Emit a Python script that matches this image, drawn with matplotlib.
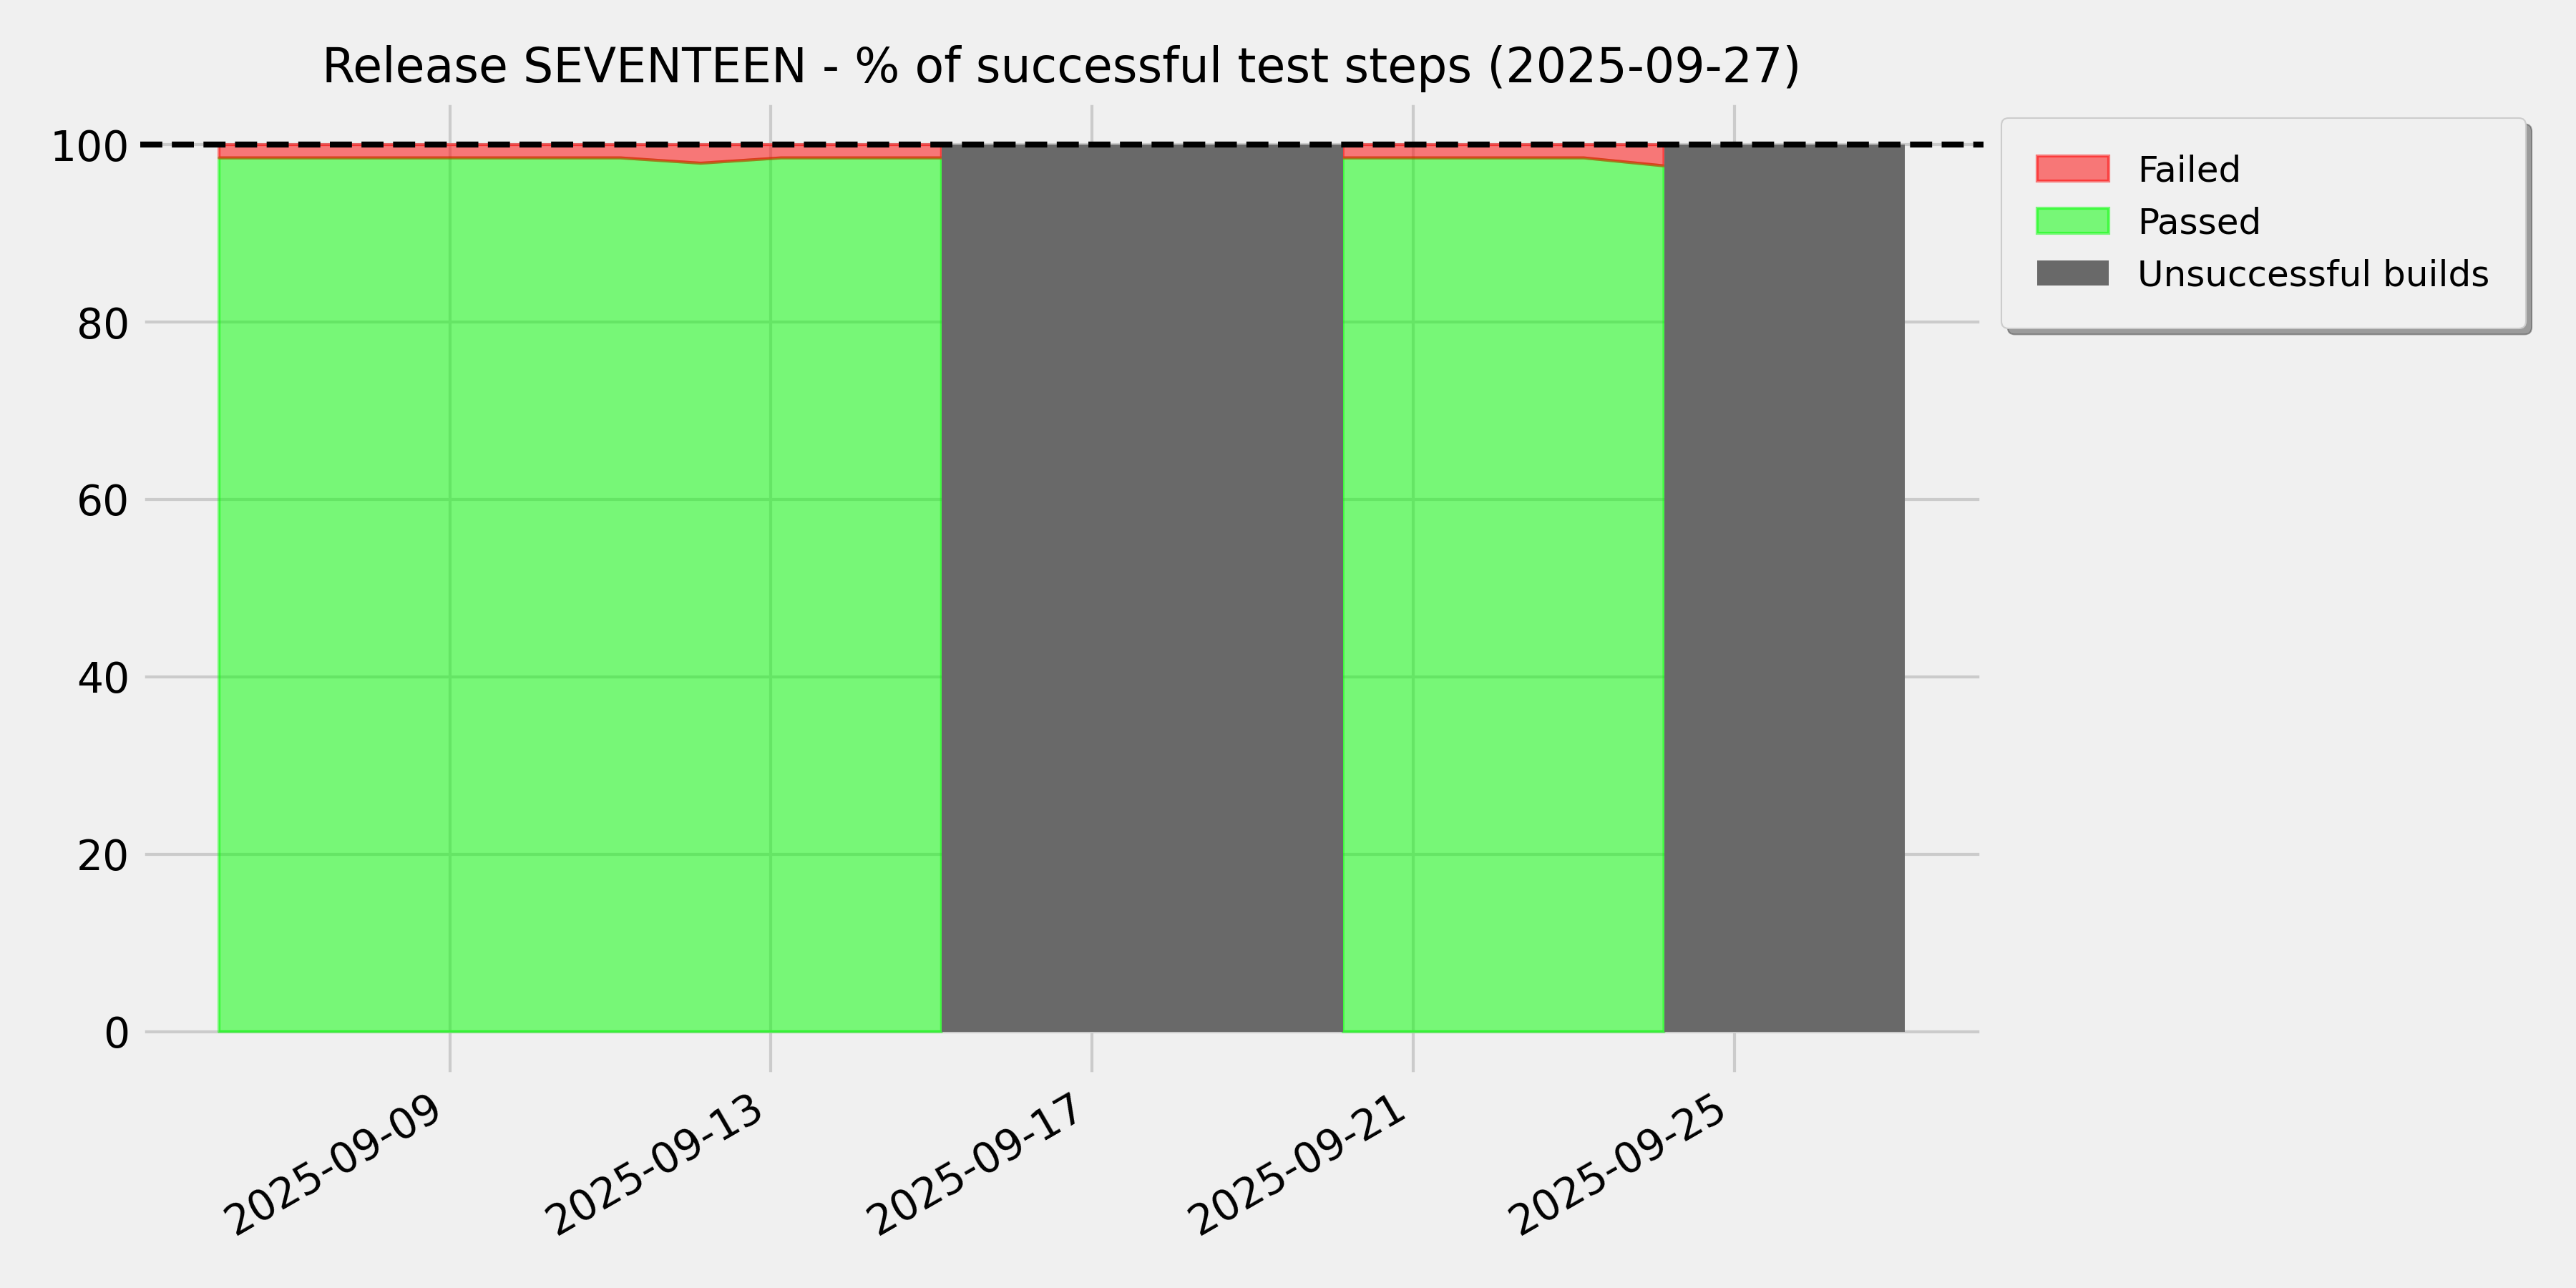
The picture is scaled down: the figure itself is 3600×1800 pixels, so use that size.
import numpy as np
import pandas as pd
import matplotlib
matplotlib.use("Agg")
import matplotlib.pyplot as plt
import matplotlib.dates as mdates

plt.style.use("fivethirtyeight")

# ---- data ----
dates = pd.date_range("2025-09-06 03:00", "2025-09-27 03:00", freq="D")
build_ok = [True] * 10 + [False] * 4 + [True] * 5 + [False] * 3
passed = [98.5, 98.5, 98.5, 98.5, 98.5, 98.5, 97.9, 98.5, 98.5, 98.5,
          np.nan, np.nan, np.nan, np.nan,
          98.5, 98.5, 98.5, 98.5, 97.6,
          np.nan, np.nan, np.nan]
tick_days = [1, 5, 9, 13, 17, 21, 25, 29]
title = "Release SEVENTEEN - % of successful test steps (2025-09-27)"
target = 100

passed = np.array(passed, dtype=float)
failed = 100 - passed
ok = np.array(build_ok)
n = len(ok)
gray_mask = np.array([
    (not ok[i]) or (i + 1 < n and not ok[i + 1]) or (i > 0 and not ok[i - 1])
    for i in range(n)
])

fig = plt.figure(figsize=(12, 6), dpi=300)
ax = fig.add_axes([0.0544, 0.1645, 0.7157, 0.7577])

polys = ax.stackplot(dates, passed, failed,
                     colors=["lime", "red"], alpha=0.5,
                     labels=["Passed", "Failed"], linewidth=1)
for p, c in zip(polys, ["lime", "red"]):
    p.set_edgecolor(c)
gray = ax.fill_between(dates, 0, 100, where=gray_mask, color="dimgray",
                       linewidth=0, label="Unsuccessful builds", zorder=3)
ax.axhline(target, color="black", linestyle="--", linewidth=2, zorder=4)

ax.margins(x=0.0468)
ax.set_ylim(-5, 105)
ax.set_yticks([0, 20, 40, 60, 80, 100])
ax.xaxis.set_major_locator(mdates.DayLocator(bymonthday=tick_days))
ax.xaxis.set_major_formatter(mdates.DateFormatter("%Y-%m-%d"))
for lbl in ax.get_xticklabels():
    lbl.set_rotation(30)
    lbl.set_ha("right")
ax.tick_params(labelsize=14)
ax.set_title(title, fontsize=16)

handles = [polys[1], polys[0], gray]
labels = ["Failed", "Passed", "Unsuccessful builds"]
leg = ax.legend(handles, labels, loc="upper left", bbox_to_anchor=(1.0, 1.0),
                fontsize=12, shadow=True, fancybox=True, borderpad=1.0)
leg.get_frame().set_edgecolor("#cccccc")
leg.get_frame().set_facecolor("#f0f0f0")

fig.savefig("out.png", dpi=300, facecolor=fig.get_facecolor())
